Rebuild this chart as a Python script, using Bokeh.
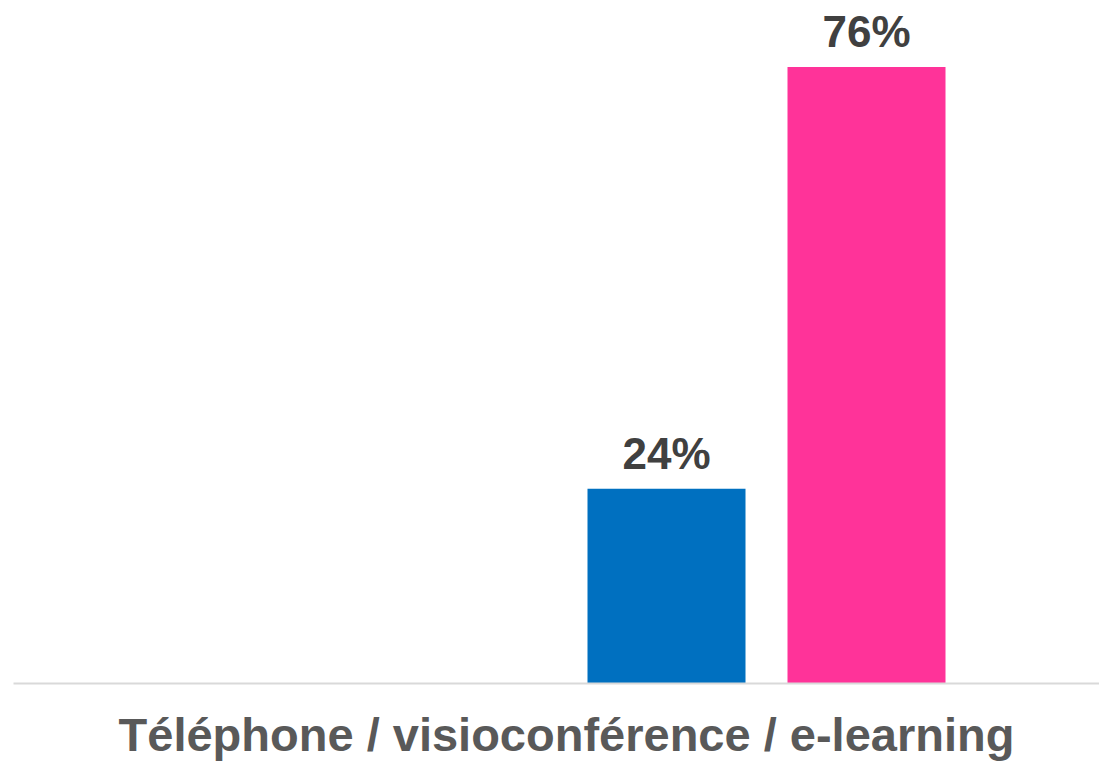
from bokeh.plotting import figure
from bokeh.models import ColumnDataSource, Range1d, FixedTicker, LabelSet
from bokeh.core.properties import value
from bokeh.embed import file_html
from bokeh.resources import INLINE

categories = ["Téléphone / visioconférence / e-learning"]
series = ["Série 1", "Série 2", "Série 3", "Série 4"]
values = [0, 0, 24, 76]
colors = ["#A5A5A5", "#ED7D31", "#0070C0", "#FF3399"]

step = 1.0
bar_w = 0.79
xs = [0 + (i - (len(series) - 1) / 2) * step for i in range(len(series))]

src = ColumnDataSource(dict(x=xs, top=values, color=colors, name=series))
lab_idx = [i for i, v in enumerate(values) if v > 0]
lab_src = ColumnDataSource(dict(x=[xs[i] for i in lab_idx],
                                y=[values[i] for i in lab_idx],
                                t=[f"{values[i]}%" for i in lab_idx]))

p = figure(width=1099, height=763, output_backend="svg", toolbar_location=None,
           x_range=Range1d(-2.765, 2.665), y_range=Range1d(0, 84.2),
           min_border_left=13, min_border_right=0, min_border_top=0, min_border_bottom=0)
p.vbar(x="x", top="top", width=bar_w, color="color", line_color=None, source=src)

labels = LabelSet(x="x", y="y", text="t", source=lab_src, text_align="center",
                  text_baseline="alphabetic", y_offset=20,
                  text_font=value("Liberation Sans"), text_font_style="bold",
                  text_font_size="44px", text_color="#404040")
p.add_layout(labels)

p.yaxis.visible = False
p.grid.visible = False
p.outline_line_color = None
p.xaxis.ticker = FixedTicker(ticks=[0])
p.xaxis.major_label_overrides = {0: categories[0]}
p.xaxis.major_tick_line_color = None
p.xaxis.minor_tick_line_color = None
p.xaxis.axis_line_color = "#D9D9D9"
p.xaxis.axis_line_width = 2
p.xaxis.major_label_text_font = "Liberation Sans"
p.xaxis.major_label_text_font_style = "bold"
p.xaxis.major_label_text_font_size = "47px"
p.xaxis.major_label_text_color = "#595959"
p.xaxis.major_label_standoff = 18

open("out.html", "w").write(file_html(p, INLINE))
